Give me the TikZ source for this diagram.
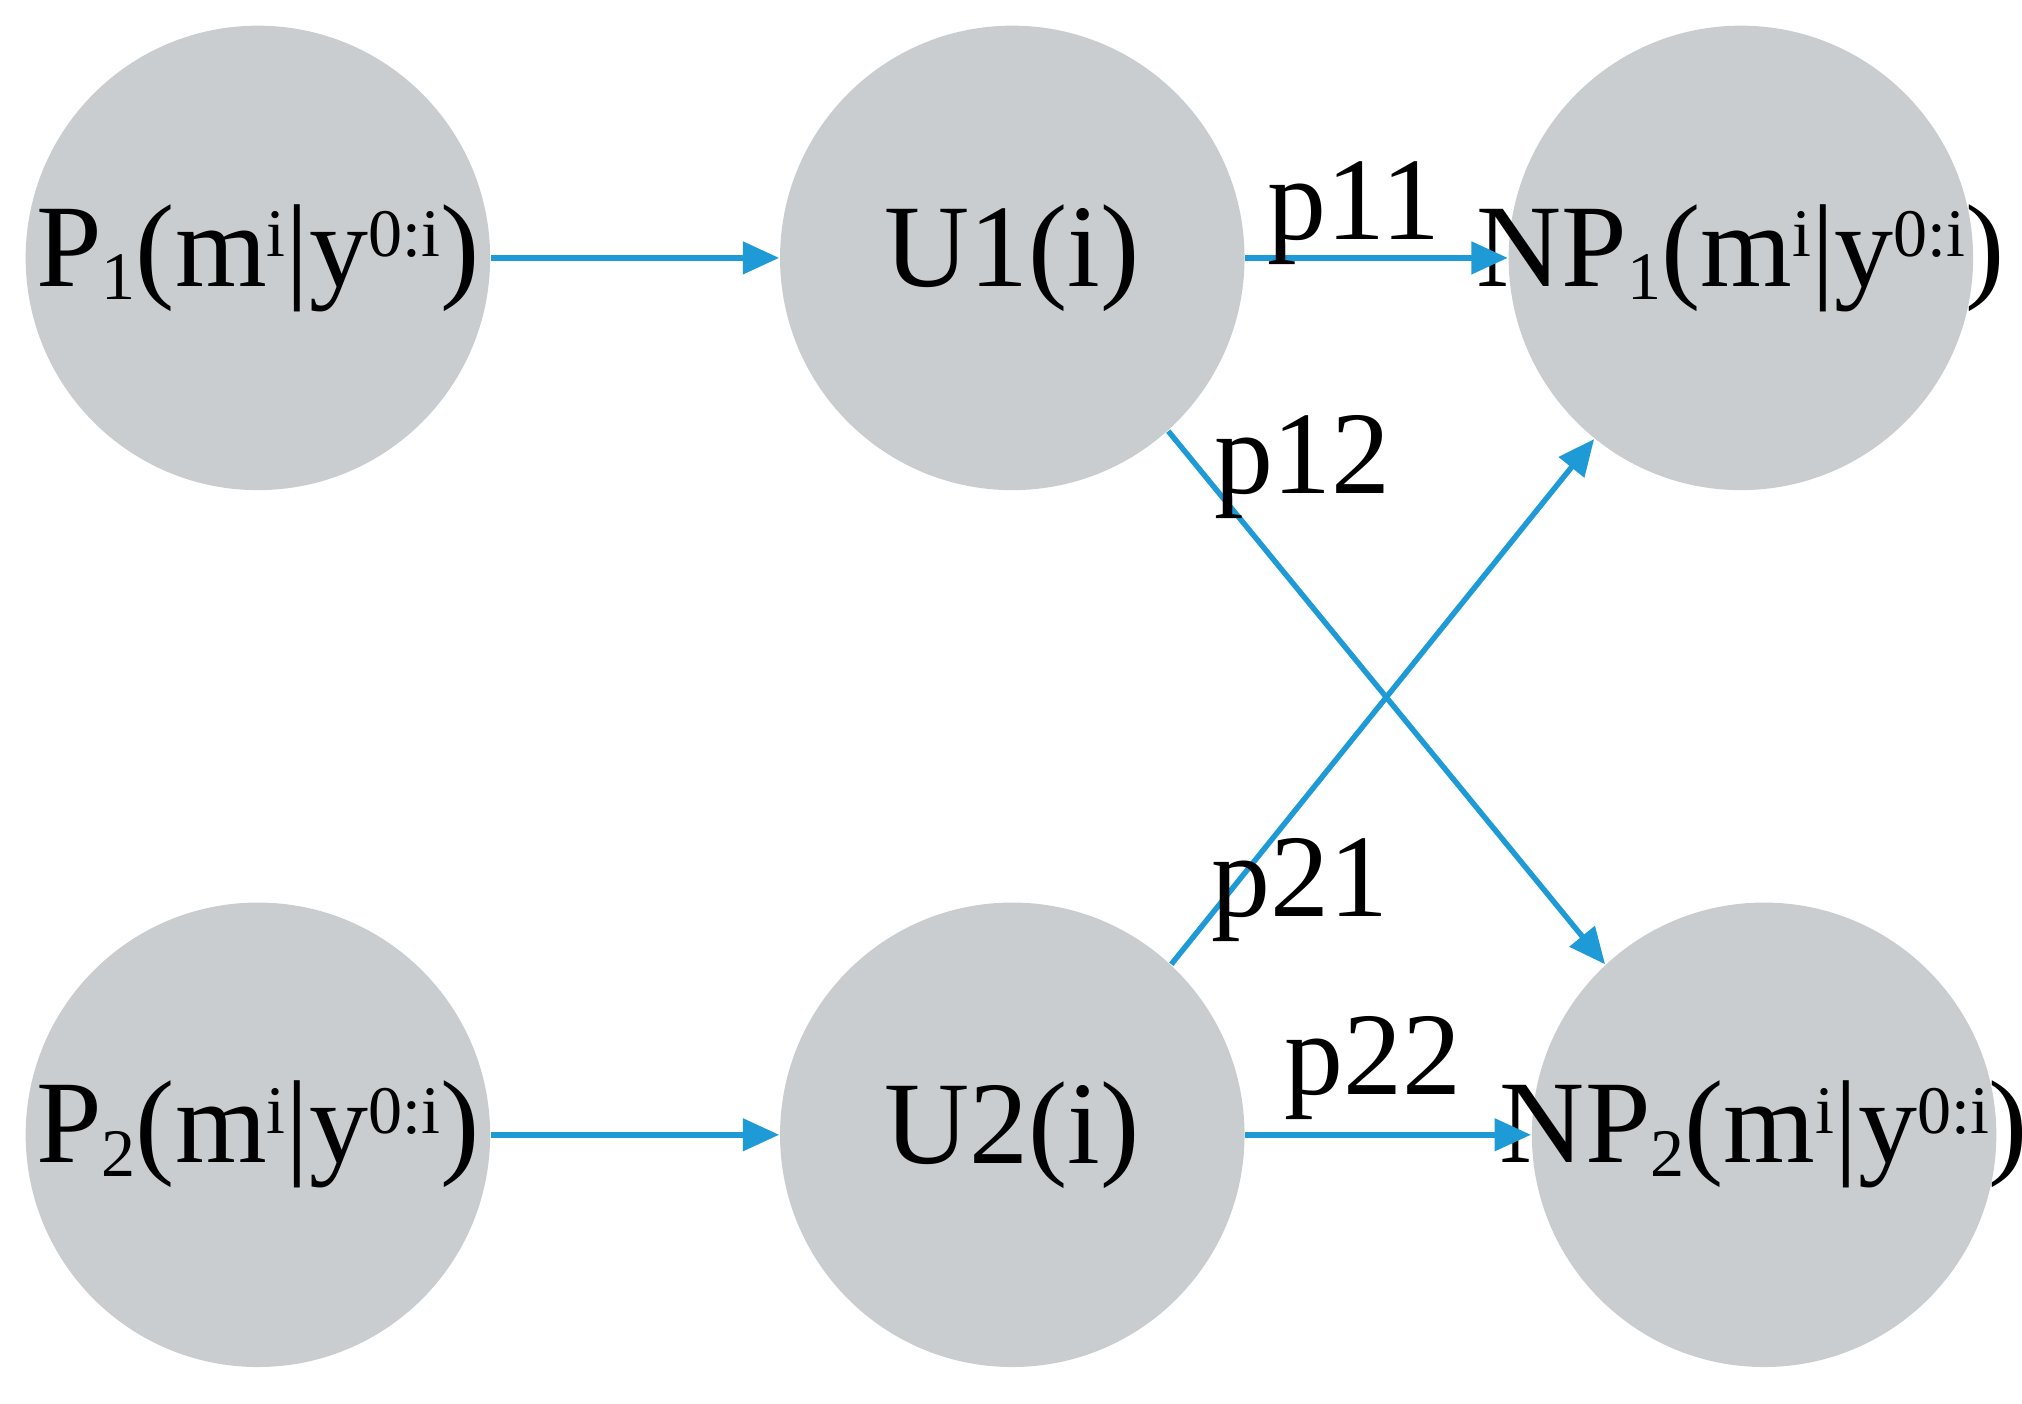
\documentclass[tikz,border=0pt]{standalone}
\usepackage{fontspec}
\setmainfont{Liberation Serif}
\usetikzlibrary{arrows.meta}
\definecolor{nodegray}{HTML}{C9CDD0}
\definecolor{arrowblue}{HTML}{1E9AD6}
\newcommand{\sbx}[1]{\raisebox{-0.25ex}{\fontsize{15}{16}\selectfont #1}}
\newcommand{\spx}[1]{\raisebox{0.55ex}{\fontsize{15}{16}\selectfont #1}}
\begin{document}
\begin{tikzpicture}[x=0.01cm,y=-0.01cm,
  st/.style={circle,fill=nodegray,minimum size=3.6cm,inner sep=0pt,
    label={[font=\fontsize{26}{30}\selectfont,inner sep=0pt]center:#1}},
  ar/.style={draw=arrowblue,line width=1.2pt,-{Triangle[length=8pt,width=7pt]}},
  lab/.style={font=\fontsize{26}{30}\selectfont}]
\useasboundingbox (0,0) rectangle (1568,1088);
\node[st={P\sbx{1}(m\spx{i}|y\spx{0:i})}] (P1) at (200,200) {};
\node[st={U1(i)}] (U1) at (785,200) {};
\node[st={NP\sbx{1}(m\spx{i}|y\spx{0:i})}] (NP1) at (1350,200) {};
\node[st={P\sbx{2}(m\spx{i}|y\spx{0:i})}] (P2) at (200,880) {};
\node[st={U2(i)}] (U2) at (785,880) {};
\node[st={NP\sbx{2}(m\spx{i}|y\spx{0:i})}] (NP2) at (1368,880) {};
\draw[ar] (P1.east) -- (U1.west);
\draw[ar] (P2.east) -- (U2.west);
\draw[ar] (U1.east) -- (NP1.west);
\draw[ar] (U2.east) -- (NP2.west);
\draw[ar] (U1.-48) -- (NP2.133);
\draw[ar] (U2.47) -- (NP1.231);
\node[lab] (l11) at (1050,165) {p11};
\node[lab] (l12) at (1010,362) {p12};
\node[lab] (l21) at (1008,690) {p21};
\node[lab] (l22) at (1065,828) {p22};
\end{tikzpicture}
\end{document}
